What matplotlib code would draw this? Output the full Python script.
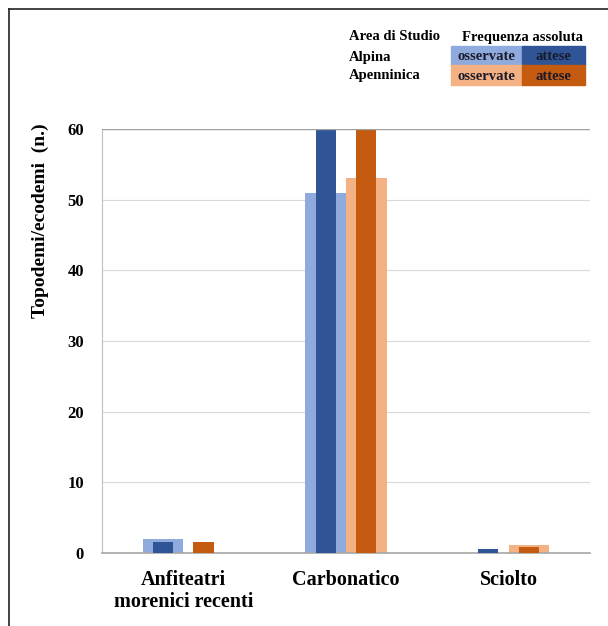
import matplotlib
matplotlib.use("Agg")
import matplotlib.pyplot as plt
from matplotlib.patches import Rectangle
from matplotlib.lines import Line2D
import numpy as np

categories = ["Anfiteatri\nmorenici recenti", "Carbonatico", "Sciolto"]
alpina_osservate = [2.0, 51.0, 0.0]
alpina_attese = [1.5, 62.0, 0.6]
apenn_osservate = [0.0, 53.0, 1.1]
apenn_attese = [1.5, 62.0, 0.8]
yticks = [0, 10, 20, 30, 40, 50, 60]

c_lb = "#8FAADC"
c_db = "#2F5597"
c_lo = "#F4B183"
c_do = "#C55A11"

serif = ["Liberation Serif", "DejaVu Serif"]

fig = plt.figure(figsize=(6.08, 6.26), dpi=100)
ax = fig.add_axes([102/608, 1-553/626, (590-102)/608, (553-129)/626])

x = np.arange(len(categories))
off = 0.125
wide = 0.25
narrow = 0.125
ax.bar(x - off, alpina_osservate, wide, color=c_lb, zorder=2)
ax.bar(x - off, alpina_attese, narrow, color=c_db, zorder=3)
ax.bar(x + off, apenn_osservate, wide, color=c_lo, zorder=2)
ax.bar(x + off, apenn_attese, narrow, color=c_do, zorder=3)

ax.set_xlim(-0.5, 2.5)
ax.set_ylim(0, 60)
ax.set_yticks(yticks)
ax.set_yticklabels([str(v) for v in yticks], fontfamily=serif, fontweight="bold", fontsize=12)
ax.set_xticks(x)
ax.set_xticklabels(categories, fontfamily=serif, fontweight="bold", fontsize=14.5, linespacing=1.15)
ax.tick_params(axis="both", length=0)
ax.tick_params(axis="y", pad=13)
ax.tick_params(axis="x", pad=12)
ax.yaxis.grid(True, color="#D9D9D9", linewidth=0.8, zorder=0)
ax.set_axisbelow(True)
for s in ["top", "right"]:
    ax.spines[s].set_visible(False)
ax.spines["left"].set_color("#BFBFBF")
ax.spines["bottom"].set_color("#A6A6A6")
ax.spines["bottom"].set_linewidth(1.2)
ax.axhline(60, color="#A0A0A0", linewidth=1.0, zorder=4)

ax.set_ylabel("Topodemi/ecodemi  (n.)", fontfamily=serif, fontweight="bold", fontsize=14)
ax.yaxis.set_label_coords(-0.108, 0.784)

# Figure border
fig.add_artist(Line2D([9/608, 9/608], [0, 1-9/626], color="#222222", linewidth=1.2))
fig.add_artist(Line2D([9/608, 1], [1-9/626, 1-9/626], color="#222222", linewidth=1.2))

# Legend table
def fx(px):
    return px/608
def fy(py):
    return 1 - py/626

tkw = dict(fontfamily=serif, fontweight="bold", fontsize=10.5, va="center")
fig.text(fx(349), fy(37), "Area di Studio", ha="left", **tkw)
fig.text(fx(522), fy(37), "Frequenza assoluta", ha="center", **tkw)
fig.text(fx(349), fy(57), "Alpina", ha="left", **tkw)
fig.text(fx(349), fy(76), "Apenninica", ha="left", **tkw)
cells = [
    (451, 46, 71, 19, c_lb, "osservate"),
    (522, 46, 63, 19, c_db, "attese"),
    (451, 65, 71, 20, c_lo, "osservate"),
    (522, 65, 63, 20, c_do, "attese"),
]
for (cx, cy, w, h, col, lab) in cells:
    fig.add_artist(Rectangle((fx(cx), fy(cy + h)), w/608, h/626, color=col, transform=fig.transFigure))
    fig.text(fx(cx + w/2), fy(cy + h/2 + 1), lab, ha="center", color="#1a1a2a", **tkw)

fig.savefig("out.png", dpi=100)
